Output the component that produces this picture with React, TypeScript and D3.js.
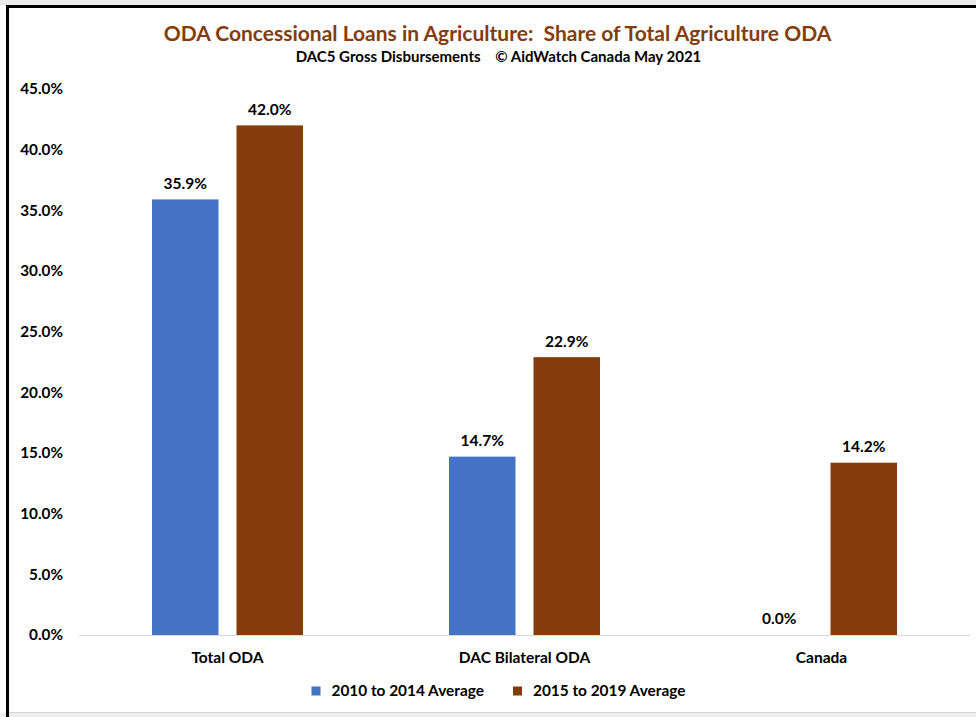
import React from "react";
import * as d3 from "d3";

const categories = ["Total ODA", "DAC Bilateral ODA", "Canada"];
const seriesNames = ["2010 to 2014 Average", "2015 to 2019 Average"];
const series2010to2014 = [35.9, 14.7, 0.0];
const series2015to2019 = [42.0, 22.9, 14.2];
const yTicks = [0, 5, 10, 15, 20, 25, 30, 35, 40, 45];
const title = "ODA Concessional Loans in Agriculture:  Share of Total Agriculture ODA";
const subtitle = "DAC5 Gross Disbursements    \u00A9 AidWatch Canada May 2021";

const colors = ["#4472C4", "#843C0C"];
const FONT = "Lato, 'Open Sans', sans-serif";

export default function App() {
  const W = 976;
  const H = 717;
  const plotLeft = 79;
  const plotRight = 970;
  const yBase = 635;
  const yTop = 89;

  const x0 = d3.scaleBand<string>().domain(categories).range([plotLeft, plotRight]).paddingInner(0).paddingOuter(0);
  const x1 = d3
    .scaleBand<string>()
    .domain(seriesNames)
    .range([0, x0.bandwidth()])
    .paddingInner(0.213)
    .paddingOuter(0.864);
  const y = d3.scaleLinear().domain([0, 45]).range([yBase, yTop]);

  const allSeries = [series2010to2014, series2015to2019];
  const fmt = (v: number) => v.toFixed(1) + "%";

  return (
    <svg
      width={W}
      height={H}
      style={{ position: "absolute", left: 0, top: 0, background: "#fff" }}
      fontFamily={FONT}
    >
      {/* outer screenshot frame */}
      <rect x={0} y={0} width={W} height={5} fill="#ebebeb" />
      <rect x={0} y={713} width={W} height={4} fill="#eeeeee" />
      <line x1={9} x2={W} y1={712.5} y2={712.5} stroke="#d4d4d4" strokeWidth={1} />
      <line x1={6} x2={W} y1={6.5} y2={6.5} stroke="#000" strokeWidth={3} />
      <line x1={7.5} x2={7.5} y1={5} y2={H} stroke="#000" strokeWidth={3} />

      {/* title */}
      <text x={497.5} y={41} textAnchor="middle" fontSize={21} fontWeight={700} fill="#843C0C" style={{ whiteSpace: "pre" }}>
        {title}
      </text>
      <text x={498.5} y={62} textAnchor="middle" fontSize={15} fontWeight={700} fill="#000" style={{ whiteSpace: "pre" }}>
        {subtitle}
      </text>

      {/* y axis labels */}
      {yTicks.map((t) => (
        <text key={t} x={63} y={y(t)} dy="0.35em" textAnchor="end" fontSize={15.3} fontWeight={700} fill="#000">
          {fmt(t)}
        </text>
      ))}

      {/* baseline */}
      <line x1={plotLeft} x2={plotRight} y1={yBase + 0.5} y2={yBase + 0.5} stroke="#d9d9d9" strokeWidth={1} />

      {/* bars */}
      {categories.map((c, ci) => (
        <g key={c} transform={`translate(${x0(c)},0)`}>
          {seriesNames.map((s, si) => {
            const v = allSeries[si][ci];
            const bx = x1(s)!;
            const bw = x1.bandwidth();
            return (
              <g key={s}>
                {v > 0 && (
                  <rect x={bx} y={y(v)} width={bw} height={yBase - y(v)} fill={colors[si]} />
                )}
                <text
                  x={bx + bw / 2}
                  y={y(v) - 16}
                  dy="0.35em"
                  textAnchor="middle"
                  fontSize={15.5}
                  fontWeight={700}
                  fill="#000"
                >
                  {fmt(v)}
                </text>
              </g>
            );
          })}
          <text
            x={x0.bandwidth() / 2}
            y={658}
            dy="0.35em"
            textAnchor="middle"
            fontSize={15.5}
            fontWeight={700}
            fill="#000"
          >
            {c}
          </text>
        </g>
      ))}

      {/* legend */}
      {seriesNames.map((s, si) => {
        const lx = [311.5, 513][si];
        return (
          <g key={s}>
            <rect x={lx} y={686.5} width={9} height={9} fill={colors[si]} />
            <text x={lx + 20} y={691} dy="0.35em" fontSize={15.4} fontWeight={700} fill="#000">
              {s}
            </text>
          </g>
        );
      })}
    </svg>
  );
}
